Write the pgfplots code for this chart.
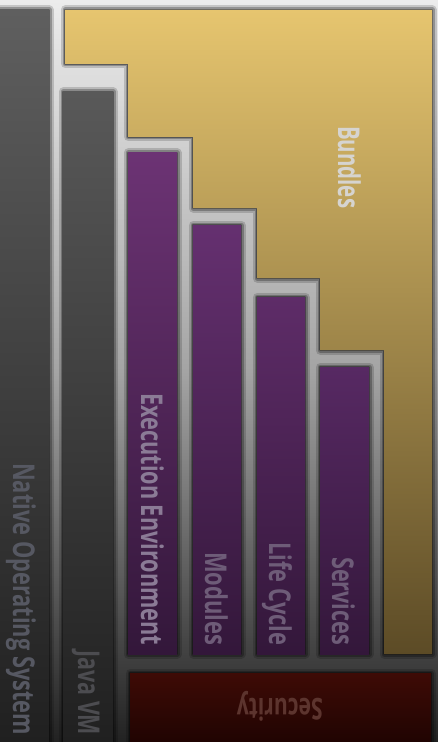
\documentclass[border=0pt]{standalone}
\usepackage{pgfplots}
\pgfplotsset{compat=1.18}
\usepackage{pgfplotstable}
\usepackage{fontspec}
\setmainfont{Open Sans}

\definecolor{bgtop}{HTML}{ECECEC}
\definecolor{bgmid}{HTML}{A4A4A4}
\definecolor{bgbot}{HTML}{222222}
\definecolor{goldtop}{HTML}{E6C56F}
\definecolor{goldbot}{HTML}{5C4B26}
\definecolor{natop}{HTML}{5F5F5F}
\definecolor{jvtop}{HTML}{595959}
\definecolor{graybot}{HTML}{202020}
\definecolor{pu1}{HTML}{6C3374}
\definecolor{pu2}{HTML}{653070}
\definecolor{pu3}{HTML}{5E2C68}
\definecolor{pu4}{HTML}{572963}
\definecolor{pubot}{HTML}{33173A}
\definecolor{sectop}{HTML}{3E0B06}
\definecolor{secbot}{HTML}{200402}

\pgfplotstableread{
x y
0 10
49 10
49 742
0 742
}\nativeos
\pgfplotstableread{
x y
63 92
113 92
113 742
63 742
}\javavm
\pgfplotstableread{
x y
128 153
177 153
177 654
128 654
}\execenv
\pgfplotstableread{
x y
193 225
241 225
241 654
193 654
}\modules
\pgfplotstableread{
x y
257 297
305 297
305 654
257 654
}\lifecycle
\pgfplotstableread{
x y
320 367
369 367
369 654
320 654
}\services
\pgfplotstableread{
x y
65 10
432 10
432 654
384 654
384 350
320 350
320 278
257 278
257 208
193 208
193 137
128 137
128 64
65 64
}\bundles
\pgfplotstableread{
x y
130 673
431 673
431 742
130 742
}\security

\newcommand{\layer}[3]{%
  \addplot[draw=black, draw opacity=0.16, line width=9bp, line join=round] table {#1} -- cycle;
  \addplot[draw=black, draw opacity=0.25, line width=5bp, line join=round] table {#1} -- cycle;
  \addplot[draw=black, draw opacity=0.35, line width=2.5bp, line join=round] table {#1} -- cycle;
  \addplot[draw=none, top color=#2, bottom color=#3] table {#1} -- cycle;
}
\newcommand{\lbl}[2]{\resizebox{#1}{\height}{\fontsize{30bp}{36bp}\selectfont\bfseries #2}}

\begin{document}
\begin{tikzpicture}
\begin{axis}[
  width=438bp, height=742bp, scale only axis,
  xmin=0, xmax=438, ymin=0, ymax=742,
  y dir=reverse,
  hide axis,
  clip=true,
]
% background
\addplot[draw=none, top color=bgtop, bottom color=bgbot, middle color=bgmid]
  coordinates {(0,0) (438,0) (438,742) (0,742)} -- cycle;

\layer{\bundles}{goldtop}{goldbot}
\layer{\nativeos}{natop}{graybot}
\layer{\javavm}{jvtop}{graybot}
\layer{\execenv}{pu1}{pubot}
\layer{\modules}{pu2}{pubot}
\layer{\lifecycle}{pu3}{pubot}
\layer{\services}{pu4}{pubot}
\layer{\security}{sectop}{secbot}

\node[rotate=-90, anchor=base west, inner sep=0pt, text={rgb,255:red,86;green,88;blue,98}]
  at (axis cs:13,463) {\lbl{272bp}{Native Operating System}};
\node[rotate=-90, anchor=base west, inner sep=0pt, text={rgb,255:red,76;green,76;blue,80}]
  at (axis cs:78,650) {\lbl{85bp}{Java VM}};
\node[rotate=-90, anchor=base west, inner sep=0pt, text={rgb,255:red,139;green,123;blue,150}]
  at (axis cs:141,393) {\lbl{252bp}{Execution Environment}};
\node[rotate=-90, anchor=base west, inner sep=0pt, text={rgb,255:red,110;green,92;blue,120}]
  at (axis cs:205,552) {\lbl{93bp}{Modules}};
\node[rotate=-90, anchor=base west, inner sep=0pt, text={rgb,255:red,110;green,92;blue,120}]
  at (axis cs:269,542) {\lbl{103bp}{Life Cycle}};
\node[rotate=-90, anchor=base west, inner sep=0pt, text={rgb,255:red,110;green,92;blue,120}]
  at (axis cs:332,557) {\lbl{88bp}{Services}};
\node[rotate=-90, anchor=base west, inner sep=0pt, text={rgb,255:red,214;green,212;blue,208}]
  at (axis cs:338,126) {\lbl{82bp}{Bundles}};
\node[rotate=180, anchor=base west, inner sep=0pt, text={rgb,255:red,92;green,52;blue,46}]
  at (axis cs:323,698) {\lbl{86bp}{Security}};
\end{axis}
\end{tikzpicture}
\end{document}
